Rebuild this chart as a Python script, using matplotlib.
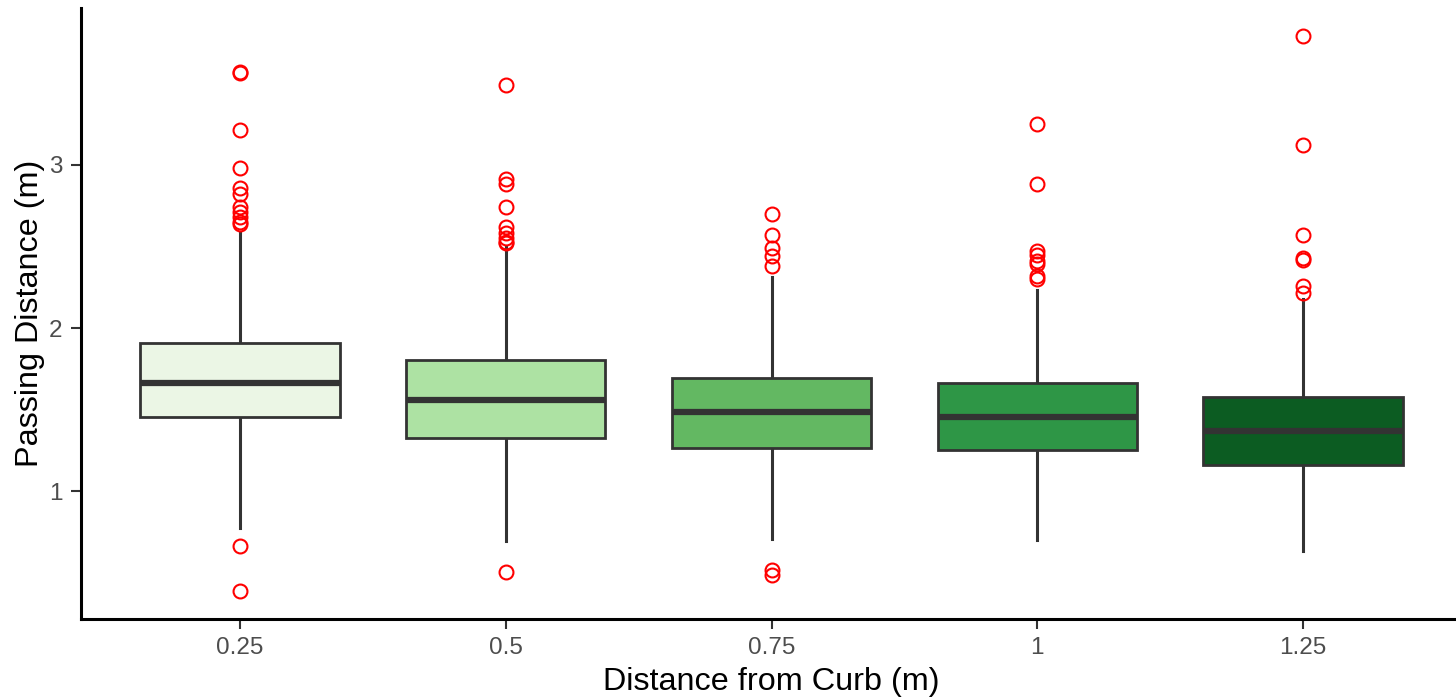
import matplotlib
matplotlib.use("Agg")
import matplotlib.pyplot as plt

categories = ["0.25", "0.5", "0.75", "1", "1.25"]
q1 = [1.453, 1.330, 1.263, 1.251, 1.159]
medians = [1.661, 1.557, 1.489, 1.453, 1.367]
q3 = [1.911, 1.807, 1.697, 1.661, 1.581]
whisker_low = [0.774, 0.694, 0.706, 0.700, 0.633]
whisker_high = [2.58, 2.50, 2.315, 2.231, 2.18]
outliers = [
    [3.56, 3.57, 3.21, 2.98, 2.86, 2.82, 2.74, 2.71, 2.68, 2.65, 2.64, 0.664, 0.389],
    [3.49, 2.91, 2.88, 2.74, 2.62, 2.58, 2.55, 2.53, 2.52, 0.505],
    [2.70, 2.57, 2.49, 2.44, 2.38, 0.517, 0.486],
    [3.25, 2.88, 2.47, 2.45, 2.41, 2.39, 2.32, 2.30],
    [3.79, 3.12, 2.57, 2.42, 2.43, 2.256, 2.217],
]
fill_colors = ["#EBF6E5", "#ADE2A3", "#63B862", "#2E9646", "#0C5C22"]

plt.rcParams["font.family"] = ["Liberation Sans", "DejaVu Sans"]

fig = plt.figure(figsize=(14.56, 6.98), dpi=100)
ax = fig.add_axes([80.5 / 1456, 1 - 619 / 698, (1462.5 - 80.5) / 1456, (619 - 8) / 698])

stats = []
for i in range(len(categories)):
    stats.append(dict(med=medians[i], q1=q1[i], q3=q3[i],
                      whislo=whisker_low[i], whishi=whisker_high[i],
                      fliers=outliers[i], label=categories[i]))

positions = list(range(1, len(categories) + 1))
edge = "#333333"
res = ax.bxp(stats, positions=positions, widths=0.75, patch_artist=True,
             showcaps=False,
             boxprops=dict(edgecolor=edge, linewidth=2.0),
             medianprops=dict(color=edge, linewidth=4.5, solid_capstyle="butt"),
             whiskerprops=dict(color=edge, linewidth=2.2),
             flierprops=dict(marker="o", markerfacecolor="none", markeredgecolor="red",
                             markersize=10, markeredgewidth=1.5, linestyle="none"))
for patch, c in zip(res["boxes"], fill_colors):
    patch.set_facecolor(c)
for w in res["whiskers"]:
    w.set_zorder(1)

all_vals = [v for o in outliers for v in o] + whisker_low + whisker_high
lo, hi = min(all_vals), max(all_vals)
r = hi - lo
ax.set_ylim(lo - 0.05 * r, hi + 0.05 * r)
ax.set_xlim(0.4, len(categories) + 0.6)

ax.set_xticks(positions)
ax.set_xticklabels(categories)
ax.set_yticks([1, 2, 3])
ax.set_yticklabels(["1", "2", "3"])
ax.tick_params(axis="both", labelsize=17.5, labelcolor="#4D4D4D", color="#333333",
               length=7, width=1.5, pad=6)

for s in ["top", "right"]:
    ax.spines[s].set_visible(False)
for s in ["left", "bottom"]:
    ax.spines[s].set_linewidth(2.2)
    ax.spines[s].set_color("black")

ax.set_xlabel("Distance from Curb (m)", fontsize=23.3, color="black", labelpad=6)
ax.set_ylabel("Passing Distance (m)", fontsize=23.3, color="black", labelpad=3)

fig.savefig("out.png", dpi=100)
